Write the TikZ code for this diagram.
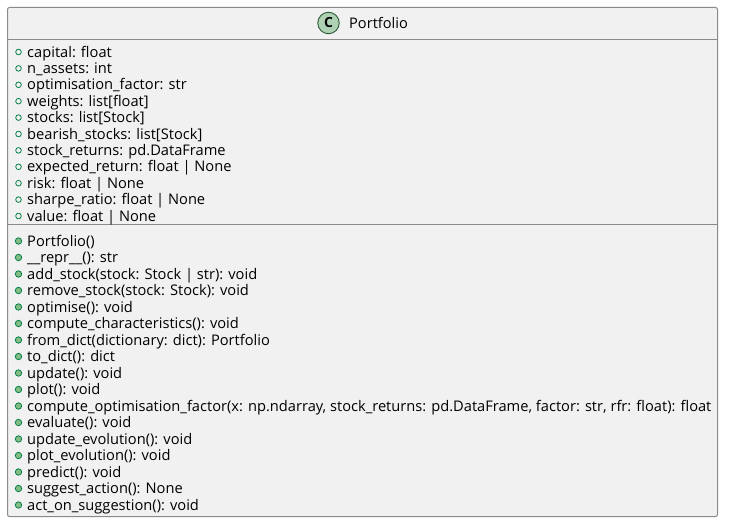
\documentclass[tikz,border=0pt]{standalone}
\usepackage{fontspec}
\setmainfont{Open Sans}
\definecolor{boxfill}{HTML}{F1F1F1}
\definecolor{boxline}{HTML}{8A8A8A}
\definecolor{attrgreen}{HTML}{038048}
\definecolor{methfill}{HTML}{84BE84}
\definecolor{badge}{HTML}{ADD1B2}
\definecolor{badgeline}{HTML}{2D5A3A}
\tikzset{
  x=1pt,y=-1pt,
  member/.style={anchor=west,inner sep=0pt,font=\fontsize{14.65}{16}\selectfont,text=black,text height=10.5pt,text depth=3pt},
  attrdot/.style={circle,draw=attrgreen,line width=0.8pt,fill=none,minimum size=5.6pt,inner sep=0pt},
  methdot/.style={circle,draw=attrgreen,line width=0.8pt,fill=methfill,minimum size=6.4pt,inner sep=0pt},
  sepline/.style={draw=boxline,line width=1pt},
}
\begin{document}
\begin{tikzpicture}
\useasboundingbox (0,0) rectangle (730,529);
\fill[white] (0,0) rectangle (730,529);
\coordinate (tl) at (7.5,7.5);
\coordinate (br) at (717.5,516.5);
\draw[fill=boxfill,draw=boxline,line width=1pt,rounded corners=2pt] (tl) rectangle (br);
\draw[sepline] (7.5,39.5) -- (717.5,39.5);
\draw[sepline] (7.5,224.5) -- (717.5,224.5);
\node[circle,draw=badgeline,fill=badge,line width=0.9pt,minimum size=21.5pt,inner sep=0pt,font=\bfseries\fontsize{14}{16}\selectfont] (badgeC) at (328.5,23) {C};
\node[anchor=west,inner sep=0pt,font=\fontsize{14.6}{16}\selectfont,text=black] (title) at (349,23) {Portfolio};
\foreach \t [count=\i from 0] in {
 {capital: float},{n\_assets: int},{optimisation\_factor: str},{weights: list[float]},{stocks: list[Stock]},{bearish\_stocks: list[Stock]},{stock\_returns: pd.DataFrame},{expected\_return: float | None},{risk: float | None},{sharpe\_ratio: float | None},{value: float | None}}
{
 \node[attrdot] (a\i) at (18.5,52+16.4*\i) {};
 \node[member] (at\i) at (27,53.3+16.4*\i) {\t};
}
\foreach \t [count=\i from 0] in {
 {Portfolio()},{\_\_repr\_\_(): str},{add\_stock(stock: Stock | str): void},{remove\_stock(stock: Stock): void},{optimise(): void},{compute\_characteristics(): void},{from\_dict(dictionary: dict): Portfolio},{to\_dict(): dict},{update(): void},{plot(): void},{compute\_optimisation\_factor(x: np.ndarray, stock\_returns: pd.DataFrame, factor: str, rfr: float): float},{evaluate(): void},{update\_evolution(): void},{plot\_evolution(): void},{predict(): void},{suggest\_action(): None},{act\_on\_suggestion(): void}}
{
 \node[methdot] (m\i) at (18.5,241+16.5*\i) {};
 \node[member] (mt\i) at (27,242.3+16.5*\i) {\t};
}
\end{tikzpicture}
\end{document}
